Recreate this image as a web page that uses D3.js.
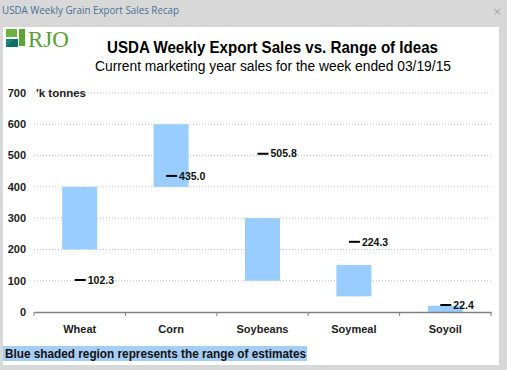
<!DOCTYPE html>
<html>
<head>
<meta charset="utf-8">
<script src="https://cdn.jsdelivr.net/npm/d3@7"></script>
<style>
  body { margin: 0; background: #d8d8d8; }
  svg { display: block; }
</style>
</head>
<body>
<svg width="507" height="370"></svg>
<script>
"use strict";
// Export sales for the week ended 03/19/15, thousand tonnes
const categories = ["Wheat", "Corn", "Soybeans", "Soymeal", "Soyoil"];
const rangeLow = [200, 400, 100, 50, 0];     // low end of trade estimates
const rangeHigh = [400, 600, 300, 150, 20];  // high end of trade estimates
const actualSales = [102.3, 435.0, 505.8, 224.3, 22.4];
const yTicks = [0, 100, 200, 300, 400, 500, 600, 700];

window.addEventListener("load", drawChart);

function drawChart() {
    const svg = d3.select("svg");
    const left = 34, right = 491, top = 93, bottom = 312;
    const font = "'Liberation Sans', Arial, sans-serif";

    // window chrome
    svg.append("rect").attr("width", 507).attr("height", 370).attr("fill", "#d8d8d8");
    svg.append("text")
        .attr("x", 2).attr("y", 14)
        .attr("font-family", "'Open Sans', 'Noto Sans', sans-serif")
        .attr("font-size", 11.5)
        .attr("textLength", 177)
        .attr("lengthAdjust", "spacingAndGlyphs")
        .attr("fill", "#4a7096")
        .text("USDA Weekly Grain Export Sales Recap");
    svg.append("text")
        .attr("x", 497).attr("y", 15)
        .attr("text-anchor", "middle")
        .attr("font-family", "'DejaVu Sans', sans-serif")
        .attr("font-size", 11)
        .attr("fill", "#a8a8a8")
        .text("×");
    svg.append("rect")
        .attr("x", 3).attr("y", 27).attr("width", 496).attr("height", 338)
        .attr("fill", "#ffffff");

    // RJO logo
    const logo = svg.append("g");
    logo.append("rect").attr("x", 6).attr("y", 29).attr("width", 11).attr("height", 8).attr("fill", "#6cb23c");
    logo.append("rect").attr("x", 19).attr("y", 29).attr("width", 6).attr("height", 17).attr("fill", "#5aa632");
    logo.append("path").attr("d", "M6,47 L6,39 L18,39 L18,47 Z").attr("fill", "#17877a");
    logo.append("path").attr("d", "M6,47 L14,39 L18,39 L18,47 Z").attr("fill", "#0f6f66");
    logo.append("text")
        .attr("x", 28).attr("y", 47)
        .attr("font-family", "'Liberation Serif', serif")
        .attr("font-size", 23)
        .attr("fill", "#5aa032")
        .text("RJO");

    // titles
    svg.append("text")
        .attr("x", 107).attr("y", 53)
        .attr("font-family", font)
        .attr("font-weight", "bold")
        .attr("font-size", 17)
        .attr("textLength", 331)
        .attr("lengthAdjust", "spacingAndGlyphs")
        .text("USDA Weekly Export Sales vs. Range of Ideas");
    svg.append("text")
        .attr("x", 95).attr("y", 71)
        .attr("font-family", font)
        .attr("font-size", 14)
        .attr("textLength", 356)
        .attr("lengthAdjust", "spacingAndGlyphs")
        .text("Current marketing year sales for the week ended 03/19/15");

    const x = d3.scaleBand().domain(categories).range([left, right]);
    const y = d3.scaleLinear().domain([0, 700]).range([bottom, top]);

    // dotted gridlines
    svg.append("g")
        .selectAll("line")
        .data(yTicks.filter(d => d > 0))
        .join("line")
            .attr("x1", left).attr("x2", right)
            .attr("y1", d => y(d)).attr("y2", d => y(d))
            .attr("stroke", "#c4c4c4")
            .attr("stroke-dasharray", "1,2");

    // y tick labels
    svg.append("g")
        .selectAll("text")
        .data(yTicks)
        .join("text")
            .attr("x", 26)
            .attr("y", d => y(d))
            .attr("dy", "0.35em")
            .attr("text-anchor", "end")
            .attr("font-family", font)
            .attr("font-weight", "bold")
            .attr("font-size", 11)
            .attr("fill", "#222")
            .text(d => d);

    svg.append("text")
        .attr("x", 36).attr("y", y(700))
        .attr("dy", "0.35em")
        .attr("font-family", font)
        .attr("font-weight", "bold")
        .attr("font-size", 11.5)
        .attr("fill", "#222")
        .text("'k tonnes");

    // range bars
    const barW = 35;
    svg.append("g")
        .selectAll("rect")
        .data(categories)
        .join("rect")
            .attr("x", d => x(d) + x.bandwidth() / 2 - barW / 2)
            .attr("y", (d, i) => y(rangeHigh[i]))
            .attr("width", barW)
            .attr("height", (d, i) => y(rangeLow[i]) - y(rangeHigh[i]))
            .attr("fill", "#99ccff");

    // x axis
    const xAxis = svg.append("g")
        .attr("transform", `translate(0,${bottom})`)
        .call(d3.axisBottom(x).tickSize(0).tickFormat(""));
    xAxis.select(".domain").attr("stroke", "#808080").attr("stroke-width", 1.5);
    xAxis.selectAll(".tick").remove();
    xAxis.selectAll("line.sep")
        .data(d3.range(categories.length + 1))
        .join("line")
            .attr("class", "sep")
            .attr("x1", i => left + i * x.step()).attr("x2", i => left + i * x.step())
            .attr("y1", 0).attr("y2", 4)
            .attr("stroke", "#808080");
    svg.append("g")
        .selectAll("text")
        .data(categories)
        .join("text")
            .attr("x", d => x(d) + x.bandwidth() / 2)
            .attr("y", 333)
            .attr("text-anchor", "middle")
            .attr("font-family", font)
            .attr("font-weight", "bold")
            .attr("font-size", 11)
            .attr("fill", "#222")
            .text(d => d);

    // actual sales markers
    const marks = svg.append("g")
        .selectAll("g")
        .data(categories)
        .join("g")
            .attr("transform", (d, i) => `translate(${x(d) + x.bandwidth() / 2},${y(actualSales[i])})`);
    marks.append("line")
        .attr("x1", -5).attr("x2", 6)
        .attr("stroke", "#000")
        .attr("stroke-width", 2);
    marks.append("text")
        .attr("x", 8)
        .attr("dy", "0.35em")
        .attr("font-family", font)
        .attr("font-weight", "bold")
        .attr("font-size", 10.5)
        .attr("fill", "#111")
        .text((d, i) => actualSales[i].toFixed(1));

    // footnote with highlight
    svg.append("rect")
        .attr("x", 3).attr("y", 346).attr("width", 304).attr("height", 15)
        .attr("fill", "#a6cdf5");
    svg.append("text")
        .attr("x", 5).attr("y", 358)
        .attr("font-family", font)
        .attr("font-weight", "bold")
        .attr("font-size", 12)
        .attr("textLength", 301)
        .attr("lengthAdjust", "spacingAndGlyphs")
        .attr("fill", "#111")
        .text("Blue shaded region represents the range of estimates");
}
</script>
</body>
</html>
